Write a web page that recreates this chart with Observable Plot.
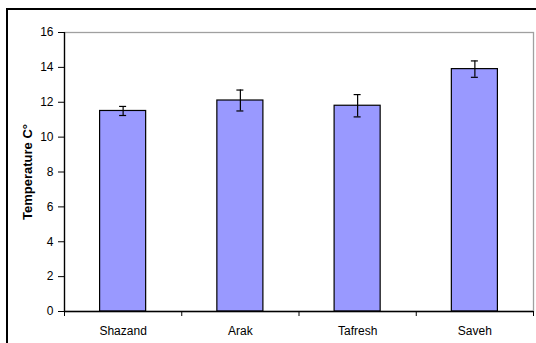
<!DOCTYPE html>
<html>
<head>
<meta charset="utf-8">
<script src="https://cdn.jsdelivr.net/npm/d3@7"></script>
<script src="https://cdn.jsdelivr.net/npm/@observablehq/plot@0.6"></script>
<style>
  html, body { margin: 0; padding: 0; background: #fff; }
  #wrap { position: relative; width: 536px; height: 343px; overflow: hidden; }
  #outer { position: absolute; left: 6px; top: 8px; right: -5px; bottom: -5px;
           border-top: 2px solid #000; border-left: 2px solid #000; pointer-events: none; }
  svg { font-family: "Liberation Sans", Arial, sans-serif; }
</style>
</head>
<body>
<div id="wrap"><div id="outer"></div></div>
<script>
const categories = ["Shazand", "Arak", "Tafresh", "Saveh"];
const temperatures = [11.5, 12.1, 11.8, 13.9];
const errors = [0.26, 0.6, 0.64, 0.47];
const yTicks = [0, 2, 4, 6, 8, 10, 12, 14, 16];
const yLabel = "Temperature C°";

const data = categories.map((c, i) => ({
  i, name: c, t: temperatures[i], e: errors[i]
}));
const boundaries = d3.range(categories.length + 1);
const centers = categories.map((c, i) => i + 0.5);

const chart = Plot.plot({
  width: 536,
  height: 343,
  marginLeft: 64,
  marginRight: 3,
  marginTop: 32,
  marginBottom: 32,
  style: { fontFamily: "Liberation Sans, Arial, sans-serif", fontSize: "12px", background: "transparent" },
  x: { type: "linear", domain: [0, categories.length] },
  y: { domain: [0, 16] },
  marks: [
    Plot.frame({ stroke: "#a0a0a0", strokeWidth: 1.3 }),
    Plot.rectY(data, {
      x1: "i", x2: d => d.i + 1, y: "t",
      insetLeft: 35.6, insetRight: 35.6,
      fill: "#9999ff", stroke: "#000", strokeWidth: 1.2
    }),
    Plot.ruleX(data, { x: d => d.i + 0.5, y1: d => d.t - d.e, y2: d => d.t + d.e, stroke: "#000", strokeWidth: 1.2 }),
    Plot.ruleY(data, { y: d => d.t - d.e, x1: d => d.i + 0.5, x2: d => d.i + 0.5, insetLeft: -3.5, insetRight: -3.5, stroke: "#000", strokeWidth: 1.2 }),
    Plot.ruleY(data, { y: d => d.t + d.e, x1: d => d.i + 0.5, x2: d => d.i + 0.5, insetLeft: -3.5, insetRight: -3.5, stroke: "#000", strokeWidth: 1.2 }),
    Plot.axisY({ ticks: yTicks, tickSize: 6, tickPadding: 5, label: null, stroke: "#000", fill: "#000", fontSize: 12 }),
    Plot.axisX({ ticks: boundaries, tickSize: 5, tickFormat: () => "", label: null, stroke: "#000" }),
    Plot.axisX({ ticks: centers, tickSize: 0, tickPadding: 15, tickFormat: d => categories[Math.floor(d)], label: null, fill: "#000", fontSize: 12 }),
    Plot.ruleX([0], { stroke: "#000", strokeWidth: 1.3 }),
    Plot.ruleY([0], { stroke: "#000", strokeWidth: 1.3 }),
    Plot.text([yLabel], { frameAnchor: "left", textAnchor: "middle", rotate: -90, dx: -37, text: d => d, fontWeight: "bold", fontSize: 13, fill: "#000" })
  ]
});
document.getElementById("wrap").prepend(chart);
</script>
</body>
</html>
